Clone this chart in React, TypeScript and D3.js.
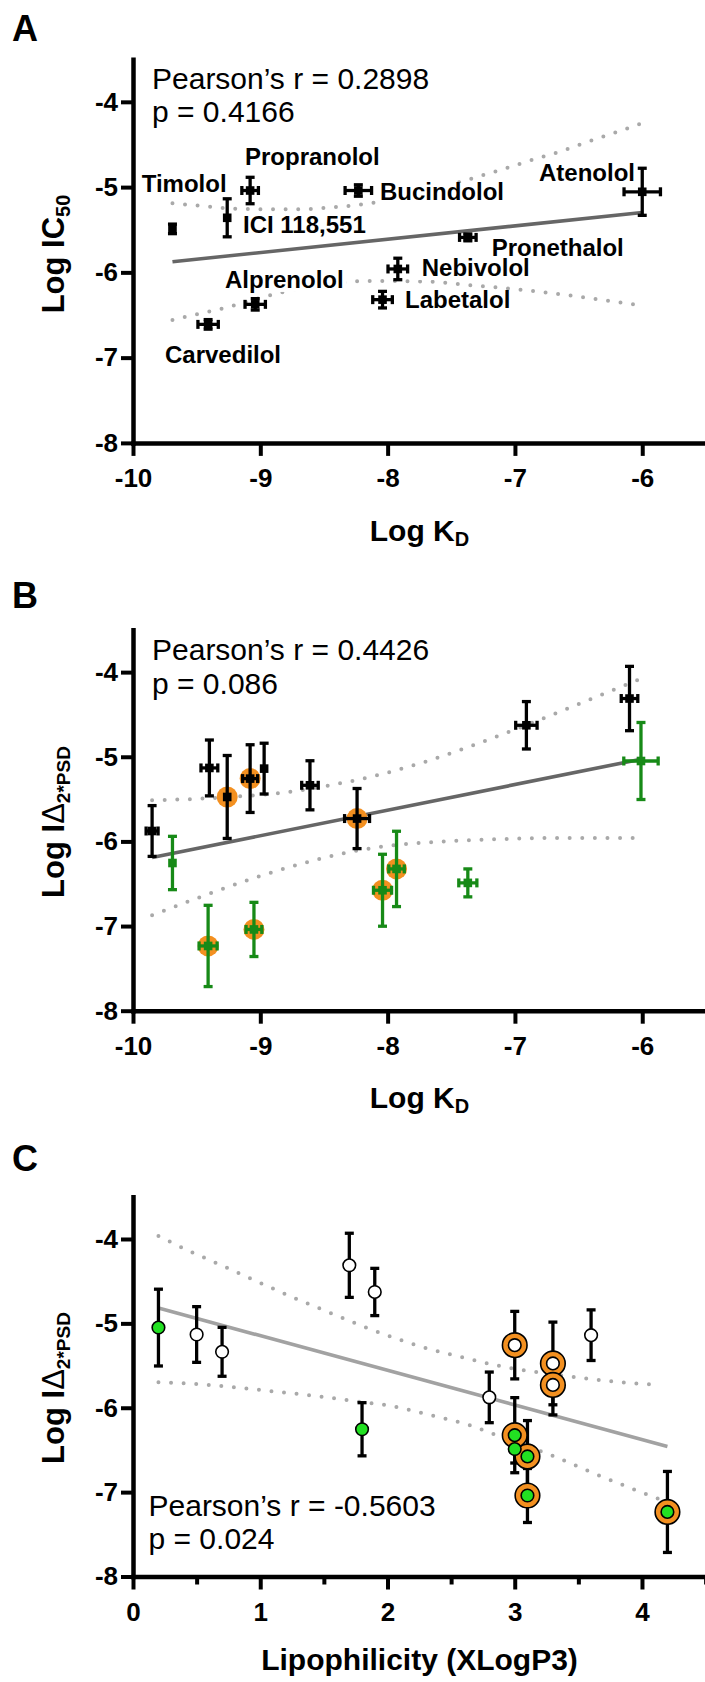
import React, { useEffect, useRef } from 'react';
import * as d3 from 'd3';

// ---- Panel A: log KD vs log IC50 ----
const drugNamesA = ['Timolol', 'ICI 118,551', 'Propranolol', 'Bucindolol', 'Atenolol', 'Pronethalol', 'Nebivolol', 'Labetalol', 'Alprenolol', 'Carvedilol'];
const logKdA = [-9.69, -9.26, -9.08, -8.23, -6.0, -7.37, -7.92, -8.04, -9.04, -9.41];
const logKdErrA = [0, 0, 0.065, 0.104, 0.143, 0.065, 0.077, 0.077, 0.08, 0.08];
const logIc50A = [-5.49, -5.36, -5.04, -5.04, -5.055, -5.59, -5.96, -6.32, -6.375, -6.61];
const logIc50ErrA = [0.056, 0.223, 0.155, 0.067, 0.276, 0.04, 0.126, 0.097, 0.067, 0.056];
const fitXA = [-9.69, -6.0];
const fitYA = [-5.876, -5.298];
const upperXA = [-9.69, -9.47, -9.24, -8.98, -8.71, -8.45, -8.14, -7.14, -6.84, -6.65, -6.45, -6.25, -6.0];
const upperYA = [-5.19, -5.22, -5.25, -5.26, -5.26, -5.24, -5.19, -4.81, -4.67, -4.585, -4.48, -4.38, -4.25];
const lowerXA = [-9.69, -9.58, -9.4, -9.26, -9.16, -8.98, -8.28, -8.19, -7.67, -7.35, -7.04, -6.63, -6.0];
const lowerYA = [-6.56, -6.52, -6.46, -6.41, -6.37, -6.29, -6.11, -6.1, -6.11, -6.15, -6.19, -6.26, -6.39];
const statsA = ['Pearson\u2019s r = 0.2898', 'p = 0.4166'];

// ---- Panels B and C: same 16 compounds ----
const logKdB = [-9.85, -9.4, -9.26, -9.08, -8.97, -8.61, -8.24, -6.91, -6.1, -9.69, -9.41, -9.05, -8.04, -7.93, -7.37, -6.01];
const logKdErrB = [0.047, 0.066, 0, 0.059, 0, 0.065, 0.098, 0.084, 0.065, 0, 0.071, 0.062, 0.071, 0.061, 0.071, 0.135];
const logIDeltaB = [-5.877, -5.132, -5.475, -5.258, -5.14, -5.337, -5.73, -4.628, -4.312, -6.255, -7.235, -7.04, -6.577, -6.325, -6.49, -5.05];
const logIDeltaErrB = [0.3, 0.33, 0.49, 0.4, 0.3, 0.29, 0.355, 0.28, 0.38, 0.315, 0.48, 0.32, 0.425, 0.445, 0.165, 0.455];
const greenGroup = [0, 0, 0, 0, 0, 0, 0, 0, 0, 1, 1, 1, 1, 1, 1, 1];
const highlighted = [0, 0, 1, 1, 0, 0, 1, 0, 0, 0, 1, 1, 1, 1, 0, 0];
const xLogP3 = [2.8, 0.5, 3.3, 3.0, 3.6, 0.7, 3.3, 1.9, 1.7, 1.8, 4.2, 3.1, 3.1, 3.0, 3.0, 0.2];

const fitXB = [-9.85, -6.0];
const fitYB = [-6.19, -5.026];
const upperXB = [-9.85, -9.45, -9.24, -8.85, -8.53, -8.14, -7.75, -7.35, -6.96, -6.49, -6.0];
const upperYB = [-5.514, -5.494, -5.475, -5.43, -5.357, -5.24, -5.08, -4.876, -4.655, -4.371, -4.07];
const lowerXB = [-9.85, -9.47, -9.08, -8.69, -8.3, -7.88, -7.48, -7.07, -6.65, -6.0];
const lowerYB = [-6.872, -6.656, -6.447, -6.27, -6.125, -6.034, -5.995, -5.971, -5.959, -5.96];
const statsB = ['Pearson\u2019s r = 0.4426', 'p = 0.086'];

const fitXC = [0.2, 4.2];
const fitYC = [-4.818, -6.458];
const upperXC = [0.2, 0.29, 0.47, 0.66, 0.95, 1.23, 1.51, 1.8, 2.09, 2.28, 2.57, 2.88, 3.2, 3.49, 3.78, 4.15];
const upperYC = [-3.964, -4.032, -4.162, -4.288, -4.486, -4.675, -4.85, -5.031, -5.19, -5.283, -5.394, -5.505, -5.584, -5.639, -5.69, -5.73];
const lowerXC = [0.2, 0.5, 0.82, 1.13, 1.42, 1.73, 2.03, 2.33, 2.64, 2.83, 3.3, 3.59, 3.88, 4.15];
const lowerYC = [-5.698, -5.718, -5.762, -5.81, -5.857, -5.92, -5.98, -6.085, -6.204, -6.31, -6.571, -6.757, -6.934, -7.09];
const statsC = ['Pearson\u2019s r = -0.5603', 'p = 0.024'];

const kdTicks = [-10, -9, -8, -7, -6];
const logTicks = [-8, -7, -6, -5, -4];
const lipoTicks = [0, 1, 2, 3, 4];
const lipoMinorTicks = [0.5, 1.5, 2.5, 3.5, 4.5];

// label placement (pixel offsets from each point in panel A)
const labelDxA = [-30.8, 15.8, -5.1, 21.7, -7.2, 23.9, 23.9, 22.5, -30.2, -43.1];
const labelDyA = [-36.9, 15.2, -25.5, 9.5, -10.8, 18.6, 7, 8.3, -16.4, 38.5];

const W = 705;
const H = 1682;
const FONT = "'Liberation Sans', Arial, Helvetica, sans-serif";
const ORANGE = '#f39020';
const GREEN_DARK = '#178a17';
const GREEN_LIGHT = '#22e022';
const CAP = 9;
const EBW = 3.3;

function drawAxes(g, x, y, xTicks, yTicks, minor?) {
  const yAxis = g.append('g')
    .attr('transform', `translate(${x.range()[0]},0)`)
    .call(d3.axisLeft(y).tickValues(yTicks).tickSize(12).tickSizeOuter(0).tickPadding(3).tickFormat(d => `${d}`));
  const xAxis = g.append('g')
    .attr('transform', `translate(0,${y.range()[0]})`)
    .call(d3.axisBottom(x).tickValues(xTicks).tickSize(13).tickSizeOuter(0).tickPadding(13).tickFormat(d => `${d}`));
  if (minor) {
    g.append('g')
      .attr('transform', `translate(0,${y.range()[0]})`)
      .call(d3.axisBottom(x).tickValues(minor).tickSize(8).tickSizeOuter(0).tickFormat(() => ''))
      .call(a => a.select('.domain').remove())
      .selectAll('.tick line').attr('stroke', '#000').attr('stroke-width', 4);
  }
  [yAxis, xAxis].forEach(ax => {
    ax.select('.domain').attr('stroke', '#000').attr('stroke-width', 4.5).attr('stroke-linecap', 'square');
    ax.selectAll('.tick line').attr('stroke', '#000').attr('stroke-width', 4);
    ax.selectAll('.tick text')
      .attr('font-family', FONT).attr('font-size', 26).attr('font-weight', 'bold').attr('fill', '#000');
  });
}

function drawFit(g, x, y, fx, fy, ux, uy, lx, ly, fitColor) {
  const line = d3.line().x(d => x(d[0])).y(d => y(d[1])).curve(d3.curveMonotoneX);
  [[ux, uy], [lx, ly]].forEach(([xs, ys]) => {
    g.append('path')
      .datum(xs.map((v, i) => [v, ys[i]]))
      .attr('d', line)
      .attr('fill', 'none')
      .attr('stroke', '#a9a9a9')
      .attr('stroke-width', 4)
      .attr('stroke-linecap', 'round')
      .attr('stroke-dasharray', '0 12.6');
  });
  g.append('path')
    .datum(fx.map((v, i) => [v, fy[i]]))
    .attr('d', d3.line().x(d => x(d[0])).y(d => y(d[1])))
    .attr('fill', 'none')
    .attr('stroke', fitColor)
    .attr('stroke-width', 3.6);
}

function errorSegments(xv, yv, xe, ye, x, y) {
  const segs = [];
  const cx = x(xv), cy = y(yv);
  if (ye > 0) {
    const t = y(yv + ye), b = y(yv - ye);
    segs.push([cx, t, cx, b], [cx - CAP / 2, t, cx + CAP / 2, t], [cx - CAP / 2, b, cx + CAP / 2, b]);
  }
  if (xe > 0) {
    const l = x(xv - xe), r = x(xv + xe);
    segs.push([l, cy, r, cy], [l, cy - CAP / 2, l, cy + CAP / 2], [r, cy - CAP / 2, r, cy + CAP / 2]);
  }
  return segs;
}

function drawBars(g, segs, color) {
  g.selectAll(null).data(segs).join('line')
    .attr('x1', d => d[0]).attr('y1', d => d[1]).attr('x2', d => d[2]).attr('y2', d => d[3])
    .attr('stroke', color).attr('stroke-width', EBW);
}

function drawSquare(g, cx, cy, color) {
  g.append('rect').attr('x', cx - 4.3).attr('y', cy - 4.3).attr('width', 8.6).attr('height', 8.6).attr('fill', color);
}

function drawText(g, x, y, lines, gap) {
  lines.forEach((s, i) => {
    g.append('text').attr('x', x).attr('y', y + i * gap)
      .attr('font-family', FONT).attr('font-size', 30).attr('fill', '#000').text(s);
  });
}

function panelLetter(g, s, y) {
  g.append('text').attr('x', 12).attr('y', y).attr('font-family', FONT)
    .attr('font-size', 36).attr('font-weight', 'bold').text(s);
}

function xTitleKd(g, y) {
  const t = g.append('text').attr('x', 419.5).attr('y', y).attr('text-anchor', 'middle')
    .attr('font-family', FONT).attr('font-size', 30).attr('font-weight', 'bold');
  t.append('tspan').text('Log K');
  t.append('tspan').attr('font-size', 20).attr('dy', 5).text('D');
}

function yTitleDelta(g, cy) {
  const t = g.append('text').attr('transform', `translate(64,${cy}) rotate(-90)`).attr('text-anchor', 'middle')
    .attr('font-family', FONT).attr('font-size', 31).attr('font-weight', 'bold');
  t.append('tspan').text('Log I');
  t.append('tspan').attr('font-weight', 'normal').text('\u0394');
  t.append('tspan').attr('font-size', 19).attr('dy', 6).text('2*PSD');
}

export default function App() {
  const svgRef = useRef(null);

  useEffect(() => {
    const svg = d3.select(svgRef.current);
    svg.selectAll('*').remove();

    const xKd = d3.scaleLinear().domain([-10, -5.5]).range([133, 705.9]);
    const xLipo = d3.scaleLinear().domain([0, 4.5]).range([133, 705.6]);
    const yA = d3.scaleLinear().domain([-8, -3.5]).range([442.9, 59.2]);
    const yB = d3.scaleLinear().domain([-8, -3.5]).range([1010.7, 629.8]);
    const yC = d3.scaleLinear().domain([-8, -3.5]).range([1576.5, 1196.8]);

    // ---------- A ----------
    const gA = svg.append('g');
    panelLetter(gA, 'A', 41);
    drawFit(gA, xKd, yA, fitXA, fitYA, upperXA, upperYA, lowerXA, lowerYA, '#666');
    drugNamesA.forEach((name, i) => {
      const t = gA.append('text')
        .attr('x', xKd(logKdA[i]) + labelDxA[i])
        .attr('y', yA(logIc50A[i]) + labelDyA[i])
        .attr('text-anchor', name === 'Atenolol' ? 'end' : 'start')
        .attr('font-family', FONT).attr('font-size', 24).attr('font-weight', 'bold')
        .text(name);
      const bb = t.node().getBBox();
      gA.insert('rect', () => t.node())
        .attr('x', bb.x - 3).attr('y', bb.y + 5).attr('width', bb.width + 6).attr('height', bb.height - 6)
        .attr('fill', '#fff');
    });
    logKdA.forEach((kd, i) => {
      drawBars(gA, errorSegments(kd, logIc50A[i], logKdErrA[i], logIc50ErrA[i], xKd, yA), '#000');
      drawSquare(gA, xKd(kd), yA(logIc50A[i]), '#000');
    });
    drawText(gA, 152, 88.5, statsA, 33.5);
    drawAxes(gA, xKd, yA, kdTicks, logTicks);
    xTitleKd(gA, 541);
    const tA = gA.append('text').attr('transform', 'translate(64,254) rotate(-90)').attr('text-anchor', 'middle')
      .attr('font-family', FONT).attr('font-size', 31).attr('font-weight', 'bold');
    tA.append('tspan').text('Log IC');
    tA.append('tspan').attr('font-size', 20).attr('dy', 6).text('50');

    // ---------- B ----------
    const gB = svg.append('g');
    panelLetter(gB, 'B', 608);
    drawFit(gB, xKd, yB, fitXB, fitYB, upperXB, upperYB, lowerXB, lowerYB, '#666');
    logKdB.forEach((kd, i) => {
      if (highlighted[i]) {
        gB.append('circle').attr('cx', xKd(kd)).attr('cy', yB(logIDeltaB[i])).attr('r', 10.5).attr('fill', ORANGE);
      }
    });
    logKdB.forEach((kd, i) => {
      const color = greenGroup[i] ? GREEN_DARK : '#000';
      drawBars(gB, errorSegments(kd, logIDeltaB[i], logKdErrB[i], logIDeltaErrB[i], xKd, yB), color);
      drawSquare(gB, xKd(kd), yB(logIDeltaB[i]), color);
    });
    drawText(gB, 152, 659.6, statsB, 34);
    drawAxes(gB, xKd, yB, kdTicks, logTicks);
    xTitleKd(gB, 1108);
    yTitleDelta(gB, 822);

    // ---------- C ----------
    const gC = svg.append('g');
    panelLetter(gC, 'C', 1170.5);
    drawFit(gC, xLipo, yC, fitXC, fitYC, upperXC, upperYC, lowerXC, lowerYC, '#a2a2a2');
    xLogP3.forEach((lp, i) => {
      drawBars(gC, errorSegments(lp, logIDeltaB[i], 0, logIDeltaErrB[i], xLipo, yC), '#000');
    });
    xLogP3.forEach((lp, i) => {
      const cx = xLipo(lp), cy = yC(logIDeltaB[i]);
      if (highlighted[i]) {
        gC.append('circle').attr('cx', cx).attr('cy', cy).attr('r', 12.3)
          .attr('fill', ORANGE).attr('stroke', '#000').attr('stroke-width', 1.6);
      }
      gC.append('circle').attr('cx', cx).attr('cy', cy).attr('r', 6.3)
        .attr('fill', greenGroup[i] ? GREEN_LIGHT : '#fff').attr('stroke', '#000').attr('stroke-width', 1.6);
    });
    drawText(gC, 148.5, 1515.7, statsC, 33.5);
    drawAxes(gC, xLipo, yC, lipoTicks, logTicks, lipoMinorTicks);
    gC.append('text').attr('x', 419.5).attr('y', 1670).attr('text-anchor', 'middle')
      .attr('font-family', FONT).attr('font-size', 30).attr('font-weight', 'bold')
      .text('Lipophilicity (XLogP3)');
    yTitleDelta(gC, 1388);
  }, []);

  return (
    <svg
      ref={svgRef}
      width={W}
      height={H}
      viewBox={`0 0 ${W} ${H}`}
      style={{ position: 'absolute', left: 0, top: 0, background: '#fff' }}
    />
  );
}
